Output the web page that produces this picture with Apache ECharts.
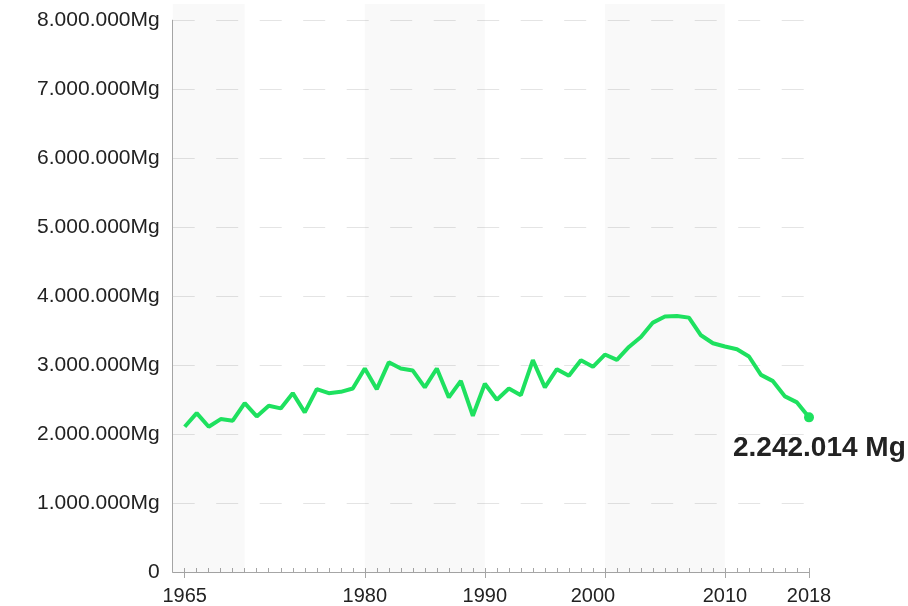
<!DOCTYPE html>
<html>
<head>
<meta charset="utf-8">
<script src="https://cdn.jsdelivr.net/npm/echarts@6/dist/echarts.min.js"></script>
<style>html,body{margin:0;padding:0;background:#fff;}#c{width:908px;height:606px;}</style>
</head>
<body>
<div id="c"></div>
<script>
const years = [1965,1966,1967,1968,1969,1970,1971,1972,1973,1974,1975,1976,1977,1978,1979,1980,1981,1982,1983,1984,1985,1986,1987,1988,1989,1990,1991,1992,1993,1994,1995,1996,1997,1998,1999,2000,2001,2002,2003,2004,2005,2006,2007,2008,2009,2010,2011,2012,2013,2014,2015,2016,2017];
const tonnes = [2106000,2304000,2106000,2217000,2193000,2449000,2256000,2410000,2372000,2593000,2314000,2651000,2593000,2612000,2661000,2950000,2651000,3040000,2950000,2920000,2676000,2950000,2531000,2771000,2265000,2730000,2497000,2661000,2564000,3071000,2676000,2940000,2844000,3071000,2974000,3153000,3075000,3263000,3408000,3616000,3703000,3711000,3688000,3432000,3316000,3269000,3230000,3124000,2858000,2767000,2546000,2459000,2242014];
const majorTicks = [1965,1980,1990,2000,2010,2017];
const labelYears = [1965,1980,1990,1999,2010,2017];
const tickLabels = ['1965','1980','1990','2000','2010','2018'];
const bands = [[1964,1970],[1980,1990],[2000,2010]];
const yTicks = [0,1000000,2000000,3000000,4000000,5000000,6000000,7000000,8000000];

const FONT = "'Liberation Sans', Arial, sans-serif";
function fmt(v){ return String(Math.round(v)).replace(/\B(?=(\d{3})+(?!\d))/g,'.'); }
const pts = years.map((y,i)=>[y,tonnes[i]]);
const last = pts.length-1;

const chart = echarts.init(document.getElementById('c'), null, {renderer:'canvas'});
chart.setOption({
  animation:false,
  backgroundColor:'#ffffff',
  grid:[
    {left:172.7, right:99, top:20.2, bottom:32.7},
    {left:172.7, right:99, top:4, bottom:32.7}
  ],
  xAxis:[
    {type:'value', gridIndex:0, min:1964, max:2017, interval:1,
     axisLine:{show:true, lineStyle:{color:'#a6a6a6', width:1}},
     axisTick:{show:true, inside:true, length:4, lineStyle:{color:'#a6a6a6'}},
     axisLabel:{show:false}, splitLine:{show:false}},
    {type:'value', gridIndex:0, position:'bottom', min:1964, max:2017, interval:1,
     axisLine:{show:false},
     axisTick:{show:true, inside:false, length:6, customValues:majorTicks, lineStyle:{color:'#a6a6a6'}},
     axisLabel:{show:true, customValues:labelYears, margin:14, color:'#222', fontSize:20, fontFamily:FONT,
       formatter:(v)=>{const k=labelYears.indexOf(Math.round(v)); return k>=0?tickLabels[k]:'';}},
     splitLine:{show:false}},
    {type:'value', gridIndex:1, min:1964, max:2017, show:false}
  ],
  yAxis:[
    {type:'value', gridIndex:0, min:yTicks[0], max:yTicks[yTicks.length-1], interval:1000000,
     axisLine:{show:true, lineStyle:{color:'#a6a6a6', width:1}},
     axisTick:{show:false},
     axisLabel:{margin:13, color:'#222', fontSize:21, fontFamily:FONT,
       formatter:(v)=> v===0 ? '0' : fmt(v)+'Mg'},
     splitLine:{show:true, lineStyle:{color:'#e4e4e4', width:1, type:[22,21.5]}}},
    {type:'value', gridIndex:1, min:0, max:8000000, show:false}
  ],
  series:[
    {type:'line', xAxisIndex:2, yAxisIndex:1, z:-1, zlevel:0, data:pts, showSymbol:false, silent:true,
     lineStyle:{opacity:0}, itemStyle:{opacity:0},
     markArea:{silent:true, itemStyle:{color:'rgba(0,0,0,0.025)'},
       data:bands.map(b=>[{xAxis:b[0]},{xAxis:b[1]}])}},
    {type:'line', xAxisIndex:0, yAxisIndex:0, z:5,
     data:pts.map((p,i)=> i===last ? {value:p, symbol:'circle', symbolSize:10,
        label:{show:true, position:[-71,36], align:'left', verticalAlign:'middle',
          formatter:()=>fmt(tonnes[last])+' Mg', color:'#222', fontSize:28, fontWeight:'bold', fontFamily:FONT}} : {value:p}),
     showSymbol:true, symbol:'none', symbolSize:0,
     lineStyle:{color:'#1ee15f', width:4},
     itemStyle:{color:'#1ee15f'}}
  ]
});
</script>
</body>
</html>
